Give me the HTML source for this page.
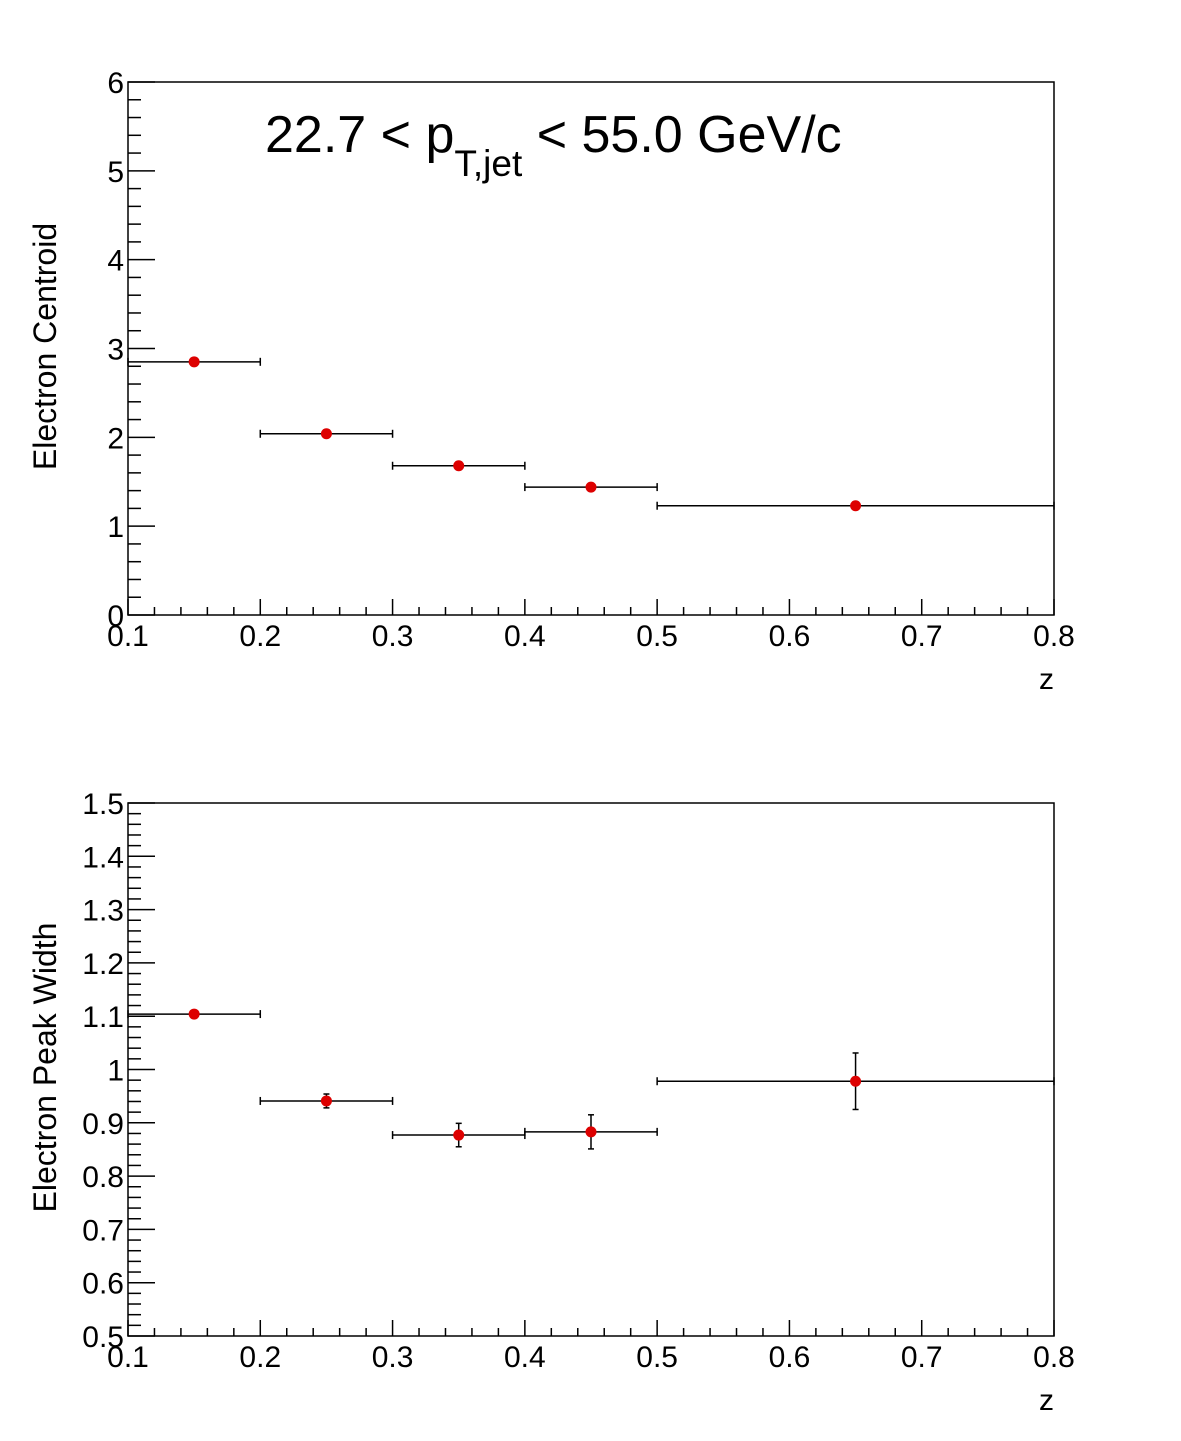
<!DOCTYPE html>
<html><head><meta charset="utf-8"><style>
body{margin:0;background:#fff;}
svg{display:block;font-family:"Liberation Sans",Arial,sans-serif;}
</style></head><body>
<svg id="c" width="1181" height="1441" viewBox="0 0 1181 1441" xmlns="http://www.w3.org/2000/svg">
<rect width="1181" height="1441" fill="#fff"/>
<text x="265" y="152" font-size="52">22.7 &lt; p<tspan font-size="37" dy="24">T,jet</tspan><tspan dy="-24"> &lt; 55.0 GeV/c</tspan></text>
<g id="top"></g>
<g id="bot"></g>
</svg>
<script>
const binLow = [0.1, 0.2, 0.3, 0.4, 0.5];
const binHigh = [0.2, 0.3, 0.4, 0.5, 0.8];
const binCenter = [0.15, 0.25, 0.35, 0.45, 0.65];
const centroidValues = [2.85, 2.04, 1.68, 1.44, 1.23];
const centroidErrors = [0.005, 0.005, 0.005, 0.005, 0.005];
const widthValues = [1.104, 0.941, 0.877, 0.883, 0.978];
const widthErrors = [0.004, 0.013, 0.022, 0.032, 0.053];
const xTickLabels = ["0.1","0.2","0.3","0.4","0.5","0.6","0.7","0.8"];
const topYTickLabels = ["0","1","2","3","4","5","6"];
const botYTickLabels = ["0.5","0.6","0.7","0.8","0.9","1","1.1","1.2","1.3","1.4","1.5"];

const NS="http://www.w3.org/2000/svg";
function mk(tag,attrs,parent){const e=document.createElementNS(NS,tag);for(const k in attrs)e.setAttribute(k,attrs[k]);parent.appendChild(e);return e;}

function drawPanel(g, top, bottom, ymin, ymax, yMajor, ySub, yLabels, vals, errs, ytitle, prefix){
  const L=128,R=1054,xmin=0.1,xmax=0.8;
  const X=v=>L+(v-xmin)/(xmax-xmin)*(R-L);
  const Y=v=>bottom-(v-ymin)/(ymax-ymin)*(bottom-top);
  const fr=mk('rect',{x:L,y:top,width:R-L,height:bottom-top,fill:'none',stroke:'#000','stroke-width':1.5},g);
  
  
  for(let i=0;i<=35;i++){
    const v=xmin+i*0.02, x=X(v), maj=i%5===0;
    const t=mk('line',{x1:x,x2:x,y1:bottom,y2:bottom-(maj?16:8),stroke:'#000','stroke-width':1.5},g);
    
    
  }
  xTickLabels.forEach((s,i)=>{
    const t=mk('text',{x:X(parseFloat(s)),y:bottom+31,'font-size':30,'text-anchor':'middle'},g);
    t.textContent=s;
    
    
  });
  const xt=mk('text',{x:1054,y:bottom+74,'font-size':30,'text-anchor':'end'},g);
  xt.textContent='z';
  
  
  const nMaj=yLabels.length-1;
  for(let i=0;i<=nMaj*ySub;i++){
    const v=ymin+i*yMajor/ySub, y=Y(v), maj=i%ySub===0;
    const t=mk('line',{x1:L,x2:L+(maj?27:13),y1:y,y2:y,stroke:'#000','stroke-width':1.5},g);
    
    
  }
  yLabels.forEach(s=>{
    const t=mk('text',{x:L-4,y:Y(parseFloat(s))+11,'font-size':30,'text-anchor':'end'},g);
    t.textContent=s;
    
    
  });
  const cy=(top+bottom)/2;
  const yt=mk('text',{x:0,y:0,'font-size':32,'text-anchor':'middle',transform:`translate(56,${cy-2}) rotate(-90)`},g);
  yt.textContent=ytitle;
  
  
  vals.forEach((v,i)=>{
    const y=Y(v), xl=X(binLow[i]), xh=X(binHigh[i]), xc=X(binCenter[i]);
    const hb=mk('line',{x1:xl,x2:xh,y1:y,y2:y,stroke:'#000','stroke-width':1.5},g);
    
    
    [xl,xh].forEach(x=>{
      const c=mk('line',{x1:x,x2:x,y1:y-4,y2:y+4,stroke:'#000','stroke-width':1.5},g);
      
      
    });
    const y1=Y(v+errs[i]), y2=Y(v-errs[i]);
    const vb=mk('line',{x1:xc,x2:xc,y1:y1,y2:y2,stroke:'#000','stroke-width':1.5},g);
    
    
    [y1,y2].forEach(yy=>{
      const c=mk('line',{x1:xc-3,x2:xc+3,y1:yy,y2:yy,stroke:'#000','stroke-width':1.5},g);
      
      
    });
    const p=mk('circle',{cx:xc,cy:y,r:5.5,fill:'#dd0000'},g);
    
    
  });
}
drawPanel(document.getElementById('top'),82,615,0,6,1,5,topYTickLabels,centroidValues,centroidErrors,'Electron Centroid','top');
drawPanel(document.getElementById('bot'),803,1336,0.5,1.5,0.1,5,botYTickLabels,widthValues,widthErrors,'Electron Peak Width','bottom');
</script>
</body></html>
